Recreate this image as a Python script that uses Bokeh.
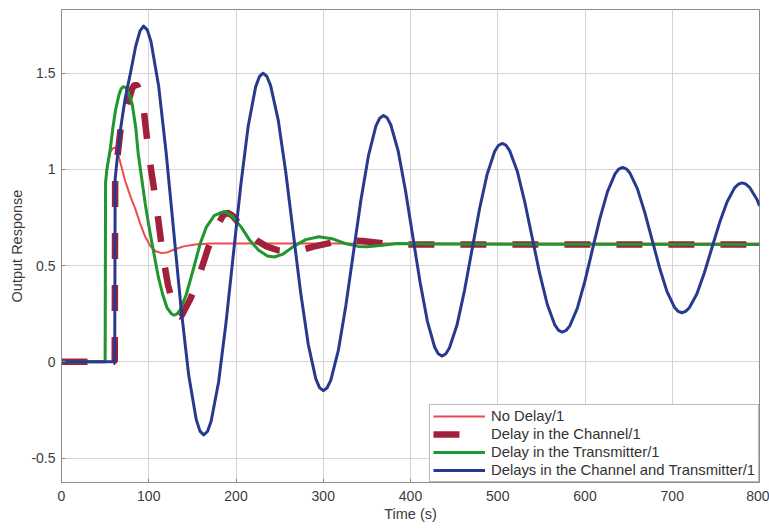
from bokeh.plotting import figure
from bokeh.models import FixedTicker, Legend, LegendItem, Range1d
from bokeh.embed import file_html
from bokeh.resources import INLINE

# ---- data ----
t_nodelay = [0, 50, 50.5, 52, 56, 58, 60, 62, 64, 66, 73, 79, 85, 90, 96, 102, 108, 115, 122, 130, 140, 153, 170, 200, 800]
y_nodelay = [0, 0, 0.93, 1.0, 1.09, 1.105, 1.113, 1.11, 1.09, 1.06, 0.94, 0.86, 0.79, 0.72, 0.65, 0.60, 0.575, 0.565, 0.57, 0.585, 0.60, 0.61, 0.615, 0.615, 0.615]

t_channel = [0, 61, 61.5, 63, 68, 73, 77, 81, 83, 85, 87, 89, 94, 100, 108, 116, 122, 128, 132, 134, 136, 138, 140, 148, 158, 168, 178, 185, 190, 196, 205, 214, 224, 235, 248, 262, 274, 290, 310, 327, 345, 370, 400, 800]
y_channel = [0, 0, 0.95, 1.02, 1.22, 1.30, 1.36, 1.42, 1.435, 1.44, 1.435, 1.41, 1.32, 1.08, 0.84, 0.56, 0.40, 0.30, 0.25, 0.238, 0.235, 0.243, 0.26, 0.33, 0.45, 0.59, 0.70, 0.76, 0.775, 0.76, 0.71, 0.665, 0.63, 0.60, 0.58, 0.575, 0.58, 0.60, 0.62, 0.632, 0.628, 0.615, 0.61, 0.61]

t_trans = [0, 50, 50.5, 52, 56, 59, 62, 66, 68.5, 71, 73.5, 76, 81, 85, 88, 92, 96, 100, 104, 111, 116, 121, 126, 128.5, 131, 133.5, 136, 143, 151, 159, 166, 175, 181, 186, 191, 196, 206, 216, 226, 236, 244, 254, 266, 280, 295, 310, 325, 340, 350, 365, 385, 420, 800]
y_trans = [0, 0, 0.93, 1.0, 1.11, 1.22, 1.31, 1.39, 1.42, 1.43, 1.425, 1.41, 1.34, 1.22, 1.08, 0.95, 0.82, 0.71, 0.61, 0.44, 0.35, 0.28, 0.25, 0.243, 0.245, 0.255, 0.27, 0.35, 0.48, 0.615, 0.70, 0.76, 0.772, 0.78, 0.772, 0.755, 0.70, 0.63, 0.58, 0.55, 0.545, 0.56, 0.60, 0.635, 0.65, 0.64, 0.615, 0.60, 0.598, 0.605, 0.615, 0.612, 0.61]

t_both = [0, 61, 61.5, 63, 68, 73, 79, 85, 90, 94, 98.3,
          102.6, 111.3, 119.9, 128.5, 137.1, 145.8, 154.4, 158.7, 163, 167.3,
          171.5, 180, 188.5, 197, 205.5, 214, 222.5, 226.8, 231, 235.3,
          239.6, 248.3, 256.9, 265.5, 274.1, 282.8, 291.4, 295.7, 300, 304.3,
          308.6, 317.3, 325.9, 334.5, 343.1, 351.8, 360.4, 364.7, 369, 373.2,
          377.4, 385.8, 394.1, 402.5, 410.9, 419.3, 427.6, 431.8, 436, 440.3,
          444.6, 453.3, 461.9, 470.5, 479.1, 487.8, 496.4, 500.7, 505, 509.3,
          513.6, 522.3, 530.9, 539.5, 548.1, 556.8, 565.4, 569.7, 574, 578.3,
          582.6, 591.3, 599.9, 608.5, 617.1, 625.8, 634.4, 638.7, 643, 647.3,
          651.5, 660, 668.5, 677, 685.5, 694, 702.5, 706.8, 711, 715.3,
          719.6, 728.3, 736.9, 745.5, 754.1, 762.8, 771.4, 775.7, 780, 784.3,
          788.6, 797.3, 800]
y_both = [0, 0, 0.95, 1.02, 1.22, 1.37, 1.50, 1.64, 1.72, 1.745, 1.725,
          1.664, 1.435, 1.088, 0.683, 0.277, -0.070, -0.299, -0.360, -0.38, -0.362,
          -0.309, -0.106, 0.201, 0.56, 0.919, 1.226, 1.429, 1.482, 1.50, 1.484,
          1.437, 1.259, 0.990, 0.675, 0.360, 0.091, -0.087, -0.134, -0.15, -0.136,
          -0.096, 0.059, 0.292, 0.565, 0.838, 1.071, 1.226, 1.266, 1.28, 1.268,
          1.232, 1.097, 0.894, 0.655, 0.416, 0.212, 0.077, 0.042, 0.03, 0.041,
          0.072, 0.191, 0.371, 0.583, 0.794, 0.974, 1.093, 1.124, 1.135, 1.126,
          1.098, 0.992, 0.832, 0.645, 0.458, 0.298, 0.192, 0.164, 0.155, 0.163,
          0.187, 0.280, 0.419, 0.583, 0.746, 0.885, 0.977, 1.002, 1.01, 1.003,
          0.981, 0.900, 0.777, 0.633, 0.488, 0.365, 0.284, 0.262, 0.255, 0.262,
          0.281, 0.354, 0.464, 0.593, 0.721, 0.831, 0.904, 0.923, 0.93, 0.924,
          0.907, 0.842, 0.81]

x_ticks = [0, 100, 200, 300, 400, 500, 600, 700, 800]
y_ticks = [-0.5, 0, 0.5, 1, 1.5]
y_tick_labels = ["-0.5", "0", "0.5", "1", "1.5"]
labels = ["No Delay/1", "Delay in the Channel/1", "Delay in the Transmitter/1",
          "Delays in the Channel and Transmitter/1"]

FONT = "Liberation Sans"
TXT = "#3c3c3c"

p = figure(width=769, height=530, output_backend="svg", toolbar_location=None,
           x_range=Range1d(0, 800), y_range=Range1d(-0.627, 1.831),
           min_border_left=61, min_border_right=10, min_border_top=9, min_border_bottom=48)
p.background_fill_color = "white"
p.border_fill_color = "white"
p.outline_line_color = "#8c8c8c"
p.outline_line_width = 1

r1 = p.line(t_nodelay, y_nodelay, line_color="#ee4a4d", line_width=2, line_join="round")
r2 = p.line(t_channel, y_channel, line_color="#a3203a", line_width=6.5, line_dash="26 26")
r3 = p.line(t_trans, y_trans, line_color="#1f9630", line_width=3, line_join="round")
r4 = p.line(t_both, y_both, line_color="#283a8e", line_width=3, line_join="round")

p.xaxis.ticker = FixedTicker(ticks=x_ticks)
p.yaxis.ticker = FixedTicker(ticks=y_ticks)
p.yaxis.major_label_overrides = {v: s for v, s in zip(y_ticks, y_tick_labels)}
for ax in (p.xaxis, p.yaxis):
    ax.axis_line_color = "#8c8c8c"
    ax.major_tick_line_color = "#8c8c8c"
    ax.major_tick_in = 4
    ax.major_tick_out = 0
    ax.minor_tick_line_color = None
    ax.major_label_text_font = FONT
    ax.major_label_text_font_size = "14px"
    ax.major_label_text_color = TXT
    ax.axis_label_text_font = FONT
    ax.axis_label_text_font_size = "14.5px"
    ax.axis_label_text_color = TXT
    ax.axis_label_text_font_style = "normal"
p.xaxis.axis_label = "Time (s)"
p.yaxis.axis_label = "Output Response"
p.xaxis.major_label_standoff = 8
p.xaxis.axis_label_standoff = 2
p.yaxis.major_label_standoff = 6
p.yaxis.axis_label_standoff = 3

p.xgrid.grid_line_color = "#d4d4d4"
p.ygrid.grid_line_color = "#d4d4d4"
p.xgrid.grid_line_width = 1
p.ygrid.grid_line_width = 1

legend = Legend(items=[LegendItem(label=labels[0], renderers=[r1]),
                       LegendItem(label=labels[1], renderers=[r2]),
                       LegendItem(label=labels[2], renderers=[r3]),
                       LegendItem(label=labels[3], renderers=[r4])],
                location="bottom_right")
legend.label_text_font = FONT
legend.label_text_font_size = "14.8px"
legend.label_text_color = "#333333"
legend.glyph_width = 52
legend.glyph_height = 14
legend.label_height = 14
legend.spacing = 2
legend.padding = 3
legend.margin = 0
legend.label_standoff = 6
legend.border_line_color = "#7a7a7a"
legend.border_line_width = 1
legend.background_fill_alpha = 1
p.add_layout(legend)

open("out.html", "w").write(file_html(p, INLINE))
